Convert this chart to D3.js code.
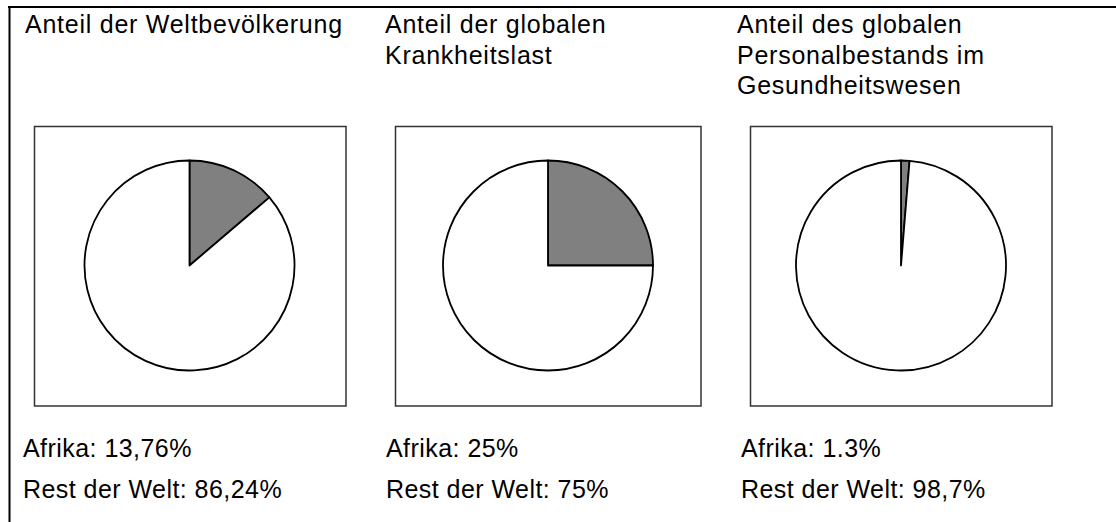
<!DOCTYPE html>
<html>
<head>
<meta charset="utf-8">
<script src="https://cdn.jsdelivr.net/npm/d3@7"></script>
<style>
  html, body { margin: 0; padding: 0; background: #fff; }
  svg { display: block; }
  text { font-family: "Liberation Sans", Arial, sans-serif; fill: #000; }
</style>
</head>
<body>
<div id="chart"></div>
<script>
// Panel titles (line-wrapped as in the original)
const titles = [
    ["Anteil der Weltbevölkerung"],
    ["Anteil der globalen", "Krankheitslast"],
    ["Anteil des globalen", "Personalbestands im", "Gesundheitswesen"]
];

// Share of Africa vs. rest of the world, in percent
const africaValues = [13.76, 25, 1.3];
const restValues = [86.24, 75, 98.7];

// Text lines under each pie
const africaLabels = ["Afrika: 13,76%", "Afrika: 25%", "Afrika: 1.3%"];
const restLabels = ["Rest der Welt: 86,24%", "Rest der Welt: 75%", "Rest der Welt: 98,7%"];

const sliceColors = ["#808080", "#ffffff"];

const width = 1116;
const height = 522;

const svg = d3.select('#chart').append('svg')
    .attr('width', width)
    .attr('height', height);

// outer frame (only the top and left edges are visible)
svg.append('line')
    .attr('x1', 8).attr('x2', width).attr('y1', 7).attr('y2', 7)
    .attr('stroke', '#000').attr('stroke-width', 2);
svg.append('line')
    .attr('x1', 9.5).attr('x2', 9.5).attr('y1', 6).attr('y2', height)
    .attr('stroke', '#000').attr('stroke-width', 2);

// layout for each column
const columns = [
    { titleX: 25, textX: 23, boxX: 34.5, boxW: 311.5, cx: 189.5 },
    { titleX: 385, textX: 386, boxX: 395.5, boxW: 305.5, cx: 548 },
    { titleX: 737, textX: 741, boxX: 750.5, boxW: 301.5, cx: 901 }
];
const boxY = 126.5, boxH = 279.5, cy = 265.5, radius = 105;

const pie = d3.pie().sort(null).value(d => d);
const arc = d3.arc().innerRadius(0).outerRadius(radius);

const panels = svg.selectAll('g.panel')
    .data(columns)
    .enter().append('g')
    .attr('class', 'panel');

// titles
panels.append('text')
    .attr('font-size', '25px')
    .attr('letter-spacing', '0.75px')
    .each(function(d, i) {
        const t = d3.select(this);
        titles[i].forEach((line, j) => {
            t.append('tspan')
                .attr('x', d.titleX)
                .attr('y', 33 + j * 30.5)
                .text(line);
        });
    });

// boxes around the pies
panels.append('rect')
    .attr('x', d => d.boxX)
    .attr('y', boxY)
    .attr('width', d => d.boxW)
    .attr('height', boxH)
    .attr('fill', '#fff')
    .attr('stroke', '#333')
    .attr('stroke-width', 1.5);

// pies
panels.each(function(d, i) {
    const g = d3.select(this).append('g')
        .attr('transform', `translate(${d.cx}, ${cy})`);
    g.selectAll('path')
        .data(pie([africaValues[i], restValues[i]]))
        .enter().append('path')
        .attr('d', arc)
        .attr('fill', (p, k) => sliceColors[k])
        .attr('stroke', '#000')
        .attr('stroke-width', 1.8)
        .attr('stroke-linejoin', 'round');
});

// value lines under the pies
panels.append('text')
    .attr('x', d => d.textX)
    .attr('y', 457)
    .attr('font-size', '25px')
    .attr('letter-spacing', '0.45px')
    .text((d, i) => africaLabels[i]);

panels.append('text')
    .attr('x', d => d.textX)
    .attr('y', 498)
    .attr('font-size', '25px')
    .attr('letter-spacing', '0.45px')
    .text((d, i) => restLabels[i]);
</script>
</body>
</html>
